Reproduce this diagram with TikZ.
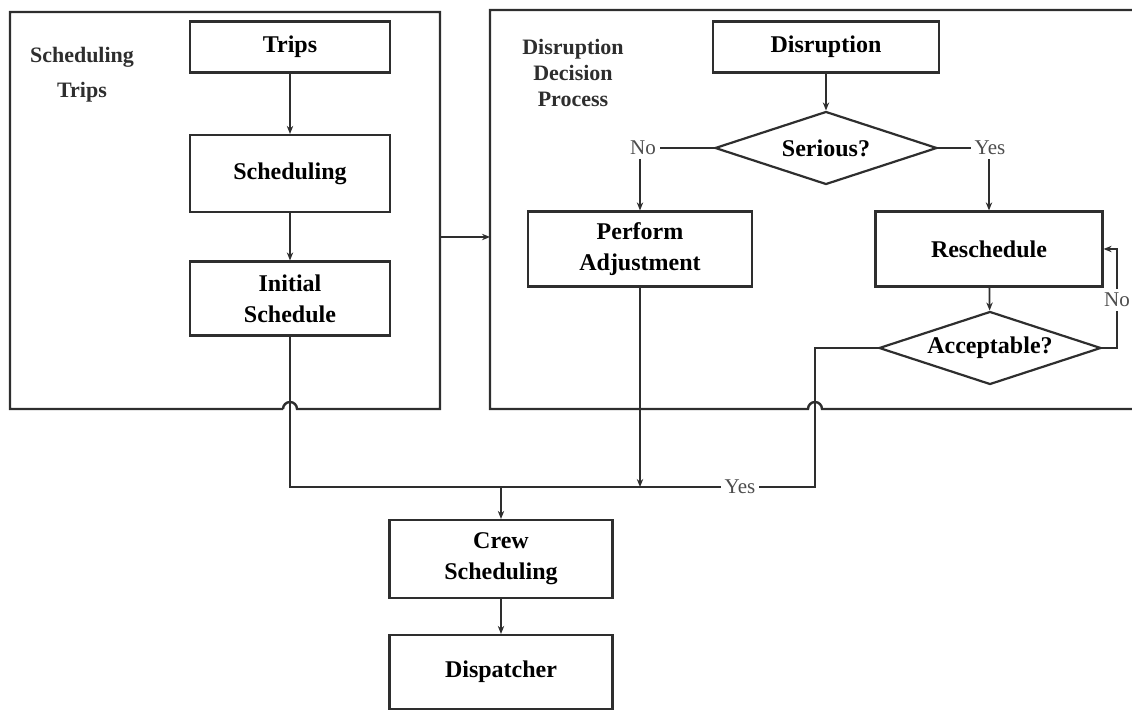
\documentclass[tikz,border=0pt]{standalone}
\usepackage{fontspec}
\setmainfont{Liberation Serif}
\usetikzlibrary{arrows.meta,shapes.geometric,positioning}
\definecolor{ink}{gray}{0.18}

\begin{document}
\begin{tikzpicture}[
    x = 0.5pt, y = -0.5pt, % one unit = one pixel of the page
    > = {Stealth[length=4pt,width=3.2pt]}, % arrow head style
    line width = 0.9pt % line style
    ]

    \tikzset{
    block/.style = {draw = ink, line width = 1.1pt, fill = white, align = center,
      inner sep = 2pt, font = \fontsize{12}{15.5}\selectfont\bfseries},
    decision/.style = {diamond, aspect = 3, draw = ink, line width = 1.1pt, fill = white,
      minimum width = 111pt, minimum height = 36.5pt, inner sep = 1pt,
      font = \fontsize{12}{14}\selectfont\bfseries},
    answer/.style = {fill = white, inner sep = 1.5pt, text = ink!85,
      font = \fontsize{10.5}{12}\selectfont},
    group/.style = {align = center, text = ink, font = \fontsize{11}{13}\selectfont\bfseries},
    frame/.style = {draw = ink, line width = 1.2pt},
    wire/.style = {draw = ink}
    }

    \useasboundingbox (0,0) rectangle (1132,711);
    \clip (0,0) rectangle (1132,711);

    % the two process frames
    \draw[frame] (283,409) -- (10,409) -- (10,12) -- (440,12) -- (440,409)
      -- (297,409) arc (360:180:7);
    \draw[frame] (1140,10) -- (490,10) -- (490,409) -- (808,409)
      arc (180:360:7) -- (1140,409);
    \coordinate (frameA) at (440,237);
    \coordinate (frameB) at (490,237);

    \node[group, font = \fontsize{11}{17.5}\selectfont\bfseries] (lblA) at (82,75) {Scheduling\\Trips};
    \node[group] (lblB) at (573,73) {Disruption\\Decision\\Process};

    % left frame
    \node[block, minimum width = 100pt, minimum height = 25.5pt] (trips) at (290,47) {Trips};
    \node[block, minimum width = 100pt, minimum height = 38.5pt] (sched) at (290,173.5) {Scheduling};
    \node[block, minimum width = 100pt, minimum height = 37pt] (init) at (290,298.5) {Initial\\Schedule};

    % right frame
    \node[block, minimum width = 113pt, minimum height = 25.5pt] (disr) at (826,47) {Disruption};
    \node[decision] (serious) at (826,148) {Serious?};
    \node[block, minimum width = 112pt, minimum height = 37.5pt] (perform) at (640,249) {Perform\\Adjustment};
    \node[block, minimum width = 113.5pt, minimum height = 37.5pt] (resched) at (989,249) {Reschedule};
    \node[decision] (accept) at (990,348) {Acceptable?};

    % below
    \node[block, minimum width = 111.5pt, minimum height = 39pt] (crew) at (501,559) {Crew\\Scheduling};
    \node[block, minimum width = 111.5pt, minimum height = 37pt] (disp) at (501,672) {Dispatcher};

    \node[answer] (no1) at (643,148) {No};
    \node[answer] (yes1) at (990,148) {Yes};
    \node[answer] (no2) at (1117,300) {No};
    \node[answer] (yes2) at (740,487) {Yes};
    \coordinate (join) at (815,487);

    \draw[wire,->] (trips) -- (sched);
    \draw[wire,->] (sched) -- (init);
    \draw[wire,->] (frameA) -- (frameB);
    \draw[wire,->] (disr) -- (serious);
    \draw[wire] (serious.west) -- (no1.east);
    \draw[wire,->] (perform.north |- no1.south) -- (perform.north);
    \draw[wire] (serious.east) -- (yes1.west);
    \draw[wire,->] (resched.north |- yes1.south) -- (resched.north);
    \draw[wire,->] (resched) -- (accept);
    \draw[wire] (accept.east) -| (no2.south);
    \draw[wire,->] (no2.north) |- (resched.east);
    \draw[wire] (accept.west) -| (join) -- (yes2.east);
    \draw[wire] (init.south) |- (yes2.west);
    \draw[wire,->] (perform.south) -- (perform.south |- join);
    \draw[wire,->] (crew.north |- join) -- (crew.north);
    \draw[wire,->] (crew) -- (disp);

\end{tikzpicture}
\end{document}
